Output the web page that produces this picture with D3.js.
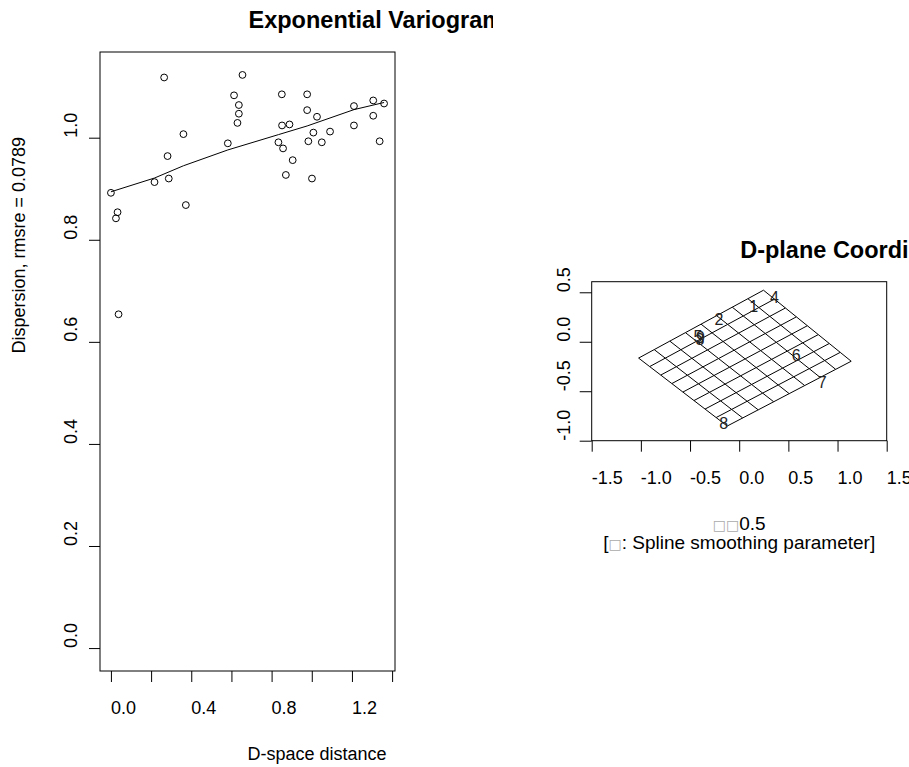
<!DOCTYPE html>
<html>
<head>
<meta charset="utf-8">
<script src="https://cdn.jsdelivr.net/npm/d3@7"></script>
<style>
  html, body { margin: 0; padding: 0; background: #fff; }
  svg { display: block; }
  text { font-family: "Liberation Sans", Arial, Helvetica, sans-serif; fill: #000; }
</style>
</head>
<body>
<svg id="chart" width="909" height="767"></svg>
<script>
// ---------- Left panel data: exponential variogram ----------
const distX = [0.000, 0.033, 0.025, 0.038, 0.265, 0.217, 0.288, 0.282, 0.361, 0.373,
               0.582, 0.613, 0.637, 0.637, 0.630, 0.655, 0.851, 0.852, 0.889, 0.834,
               0.857, 0.905, 0.871, 0.977, 0.977, 1.026, 1.008, 0.983, 1.050, 1.091,
               1.001, 1.210, 1.210, 1.306, 1.360, 1.306, 1.338];
const dispY = [0.892, 0.854, 0.842, 0.654, 1.118, 0.913, 0.920, 0.964, 1.007, 0.868,
               0.989, 1.083, 1.064, 1.047, 1.029, 1.123, 1.085, 1.024, 1.026, 0.991,
               0.979, 0.956, 0.927, 1.085, 1.054, 1.041, 1.010, 0.993, 0.991, 1.012,
               0.920, 1.062, 1.024, 1.073, 1.067, 1.043, 0.993];
const fitX = [0.000, 0.217, 0.361, 0.582, 0.834, 0.977, 1.210, 1.360];
const fitY = [0.894, 0.921, 0.945, 0.976, 1.006, 1.023, 1.055, 1.069];
const leftXLim = [0, 1.36];
const leftYLim = [0, 1.123];
const leftXTicks = [0.0, 0.2, 0.4, 0.6, 0.8, 1.0, 1.2, 1.4];
const leftXTickLabels = ["0.0", "", "0.4", "", "0.8", "", "1.2", ""];
const leftYTicks = [0.0, 0.2, 0.4, 0.6, 0.8, 1.0];
const leftYTickLabels = ["0.0", "0.2", "0.4", "0.6", "0.8", "1.0"];
const leftTitle = "Exponential Variogram";
const leftXLabel = "D-space distance";
const leftYLabel = "Dispersion, rmsre = 0.0789";

// ---------- Right panel data: D-plane coordinates ----------
const meshCornerNames = ["left", "top", "right", "bottom"];
const meshCornerX = [-1.023, 0.247, 1.139, -0.122];
const meshCornerY = [-0.165, 0.521, -0.197, -0.852];
const meshCells = 8;
const siteNames = ["1", "2", "3", "4", "5", "6", "7", "8", "9"];
const siteX = [0.148, -0.207, -0.399, 0.359, -0.419, 0.580, 0.844, -0.157, -0.394];
const siteY = [0.357, 0.229, 0.025, 0.452, 0.051, -0.138, -0.407, -0.826, 0.040];
const rightXLim = [-1.5, 1.5];
const rightYLim = [-1.0, 0.607];
const rightXTicks = [-1.5, -1.0, -0.5, 0.0, 0.5, 1.0, 1.5];
const rightXTickLabels = ["-1.5", "-1.0", "-0.5", "0.0", "0.5", "1.0", "1.5"];
const rightYTicks = [-1.0, -0.5, 0.0, 0.5];
const rightYTickLabels = ["-1.0", "-0.5", "0.0", "0.5"];
const rightTitle = "D-plane Coordinates";
const missingGlyph = "\u25A1";
const rightNote1 = "0.5";
const rightNote2 = ": Spline smoothing parameter]";

const svg = d3.select("#chart");

// ---------- Left panel ----------
const L = {left: 100, right: 395, top: 52, bottom: 671};
function expand(lim) { const d = (lim[1] - lim[0]) * 0.04; return [lim[0] - d, lim[1] + d]; }
const lx = d3.scaleLinear().domain(expand(leftXLim)).range([L.left, L.right]);
const ly = d3.scaleLinear().domain(expand(leftYLim)).range([L.bottom, L.top]);

const gL = svg.append("g");
gL.append("rect").attr("x", L.left).attr("y", L.top)
  .attr("width", L.right - L.left).attr("height", L.bottom - L.top)
  .attr("fill", "none").attr("stroke", "#000").attr("stroke-width", 1);

// x axis
const xAxisL = d3.axisBottom(lx).tickValues(leftXTicks).tickSize(11).tickFormat("");
gL.append("g").attr("transform", `translate(0,${L.bottom})`).call(xAxisL)
  .call(g => g.select(".domain").remove())
  .call(g => g.selectAll("line").attr("stroke", "#000"));
gL.selectAll("text.xtl").data(leftXTicks).enter().append("text")
  .attr("class", "xtl").attr("x", d => lx(d)).attr("y", L.bottom + 43)
  .attr("font-size", 18).attr("text-anchor", "start")
  .text((d, i) => leftXTickLabels[i]);

// y axis
const yAxisL = d3.axisLeft(ly).tickValues(leftYTicks).tickSize(11).tickFormat("");
gL.append("g").attr("transform", `translate(${L.left},0)`).call(yAxisL)
  .call(g => g.select(".domain").remove())
  .call(g => g.selectAll("line").attr("stroke", "#000"));
gL.selectAll("text.ytl").data(leftYTicks).enter().append("text")
  .attr("class", "ytl").attr("x", L.left - 23).attr("y", d => ly(d))
  .attr("transform", d => `rotate(-90,${L.left - 23},${ly(d)})`)
  .attr("font-size", 18).attr("text-anchor", "start")
  .text((d, i) => leftYTickLabels[i]);

// fitted line
const fitData = fitX.map((x, i) => [x, fitY[i]]);
gL.append("path").datum(fitData)
  .attr("d", d3.line().x(d => lx(d[0])).y(d => ly(d[1])))
  .attr("fill", "none").attr("stroke", "#000").attr("stroke-width", 1);

// points
const pts = distX.map((x, i) => [x, dispY[i]]);
gL.selectAll("circle").data(pts).enter().append("circle")
  .attr("cx", d => lx(d[0])).attr("cy", d => ly(d[1])).attr("r", 3.4)
  .attr("fill", "none").attr("stroke", "#000").attr("stroke-width", 1);

// titles
svg.append("clipPath").attr("id", "leftFig").append("rect")
  .attr("x", 0).attr("y", 0).attr("width", 493).attr("height", 767);
svg.append("text").attr("clip-path", "url(#leftFig)")
  .attr("x", (L.left + L.right) / 2 + 1).attr("y", 28)
  .attr("font-size", 23.5).attr("font-weight", "bold").attr("text-anchor", "start")
  .text(leftTitle);
svg.append("text").attr("x", (L.left + L.right) / 2).attr("y", 760)
  .attr("font-size", 18).attr("text-anchor", "start").text(leftXLabel);
const ylabY = (L.top + L.bottom) / 2 - 8;
svg.append("text").attr("x", 25).attr("y", ylabY)
  .attr("transform", `rotate(-90,25,${ylabY})`)
  .attr("font-size", 18).attr("text-anchor", "start").text(leftYLabel);

// ---------- Right panel ----------
const R = {left: 591.7, right: 886.7, top: 281.7, bottom: 440.7};
const rx = d3.scaleLinear().domain(rightXLim).range([R.left, R.right]);
const ry = d3.scaleLinear().domain(rightYLim).range([R.bottom, R.top]);
const gR = svg.append("g");

gR.append("rect").attr("x", R.left).attr("y", R.top)
  .attr("width", R.right - R.left).attr("height", R.bottom - R.top)
  .attr("fill", "none").attr("stroke", "#000").attr("stroke-width", 1);

const xAxisR = d3.axisBottom(rx).tickValues(rightXTicks).tickSize(11).tickFormat("");
gR.append("g").attr("transform", `translate(0,${R.bottom})`).call(xAxisR)
  .call(g => g.select(".domain").remove())
  .call(g => g.selectAll("line").attr("stroke", "#000"));
gR.selectAll("text.xtl").data(rightXTicks).enter().append("text")
  .attr("class", "xtl").attr("x", d => rx(d)).attr("y", R.bottom + 43)
  .attr("font-size", 18).attr("text-anchor", "start")
  .text((d, i) => rightXTickLabels[i]);

const yAxisR = d3.axisLeft(ry).tickValues(rightYTicks).tickSize(12).tickFormat("");
gR.append("g").attr("transform", `translate(${R.left},0)`).call(yAxisR)
  .call(g => g.select(".domain").remove())
  .call(g => g.selectAll("line").attr("stroke", "#000"));
gR.selectAll("text.ytl").data(rightYTicks).enter().append("text")
  .attr("class", "ytl").attr("x", R.left - 22).attr("y", d => ry(d))
  .attr("transform", d => `rotate(-90,${R.left - 22},${ry(d)})`)
  .attr("font-size", 18).attr("text-anchor", "start")
  .text((d, i) => rightYTickLabels[i]);

// mesh
const c = {};
meshCornerNames.forEach((n, i) => c[n] = [meshCornerX[i], meshCornerY[i]]);
function node(i, j) {
  const u = i / meshCells, v = j / meshCells;
  const p = k => (1 - u) * (1 - v) * c.left[k] + u * (1 - v) * c.top[k]
               + u * v * c.right[k] + (1 - u) * v * c.bottom[k];
  return [p(0), p(1)];
}
const meshLines = [];
for (let i = 0; i <= meshCells; i++) {
  const a = [], b = [];
  for (let j = 0; j <= meshCells; j++) { a.push(node(i, j)); b.push(node(j, i)); }
  meshLines.push(a, b);
}
const meshLine = d3.line().x(d => rx(d[0])).y(d => ry(d[1]));
gR.selectAll("path.mesh").data(meshLines).enter().append("path")
  .attr("class", "mesh").attr("d", meshLine)
  .attr("fill", "none").attr("stroke", "#000").attr("stroke-width", 1);

// site labels
gR.selectAll("text.site").data(siteNames).enter().append("text")
  .attr("class", "site").attr("x", (d, i) => rx(siteX[i])).attr("y", (d, i) => ry(siteY[i]))
  .attr("text-anchor", "middle").attr("dominant-baseline", "central")
  .attr("font-size", 16).style("fill", "#222").text(d => d);

// right titles
svg.append("text").attr("x", (R.left + R.right) / 2 + 1).attr("y", 258)
  .attr("font-size", 23.5).attr("font-weight", "bold").attr("text-anchor", "start")
  .text(rightTitle);

const cx = (R.left + R.right) / 2;
const n1 = svg.append("text").attr("x", cx).attr("y", 530)
  .attr("font-size", 19).attr("text-anchor", "middle");
n1.append("tspan").style("fill", "#aaa").attr("font-family", "DejaVu Sans").attr("font-size", 14)
  .text(missingGlyph + missingGlyph);
n1.append("tspan").text(rightNote1);
const n2 = svg.append("text").attr("x", cx).attr("y", 549)
  .attr("font-size", 19).attr("text-anchor", "middle");
n2.append("tspan").text("[");
n2.append("tspan").style("fill", "#aaa").attr("font-family", "DejaVu Sans").attr("font-size", 14)
  .text(missingGlyph);
n2.append("tspan").text(rightNote2);
</script>
</body>
</html>
